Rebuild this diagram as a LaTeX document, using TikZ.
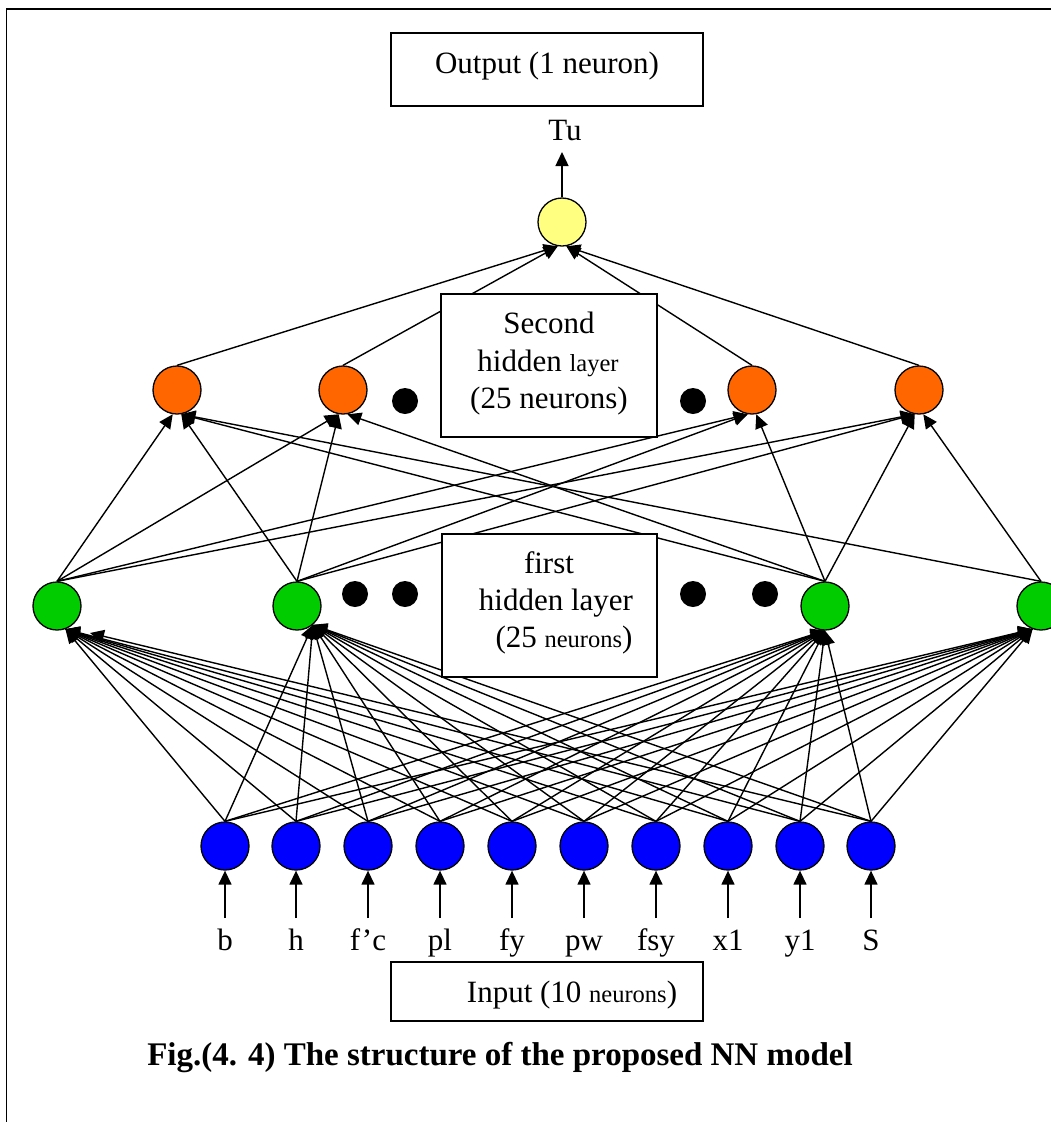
\documentclass[tikz,border=0pt]{standalone}
\usepackage{fontspec}
\setmainfont{Liberation Serif}
\usetikzlibrary{arrows.meta}
\pgfdeclarelayer{wires}
\pgfsetlayers{wires,main}
\definecolor{inblue}{RGB}{0,0,255}
\definecolor{hidgreen}{RGB}{0,204,0}
\definecolor{hidorange}{RGB}{255,102,0}
\definecolor{outyellow}{RGB}{255,255,128}
\newcommand{\nntext}{\fontsize{31}{37}\selectfont}
\newcommand{\nnsmall}{\fontsize{24.5}{30}\selectfont}
\begin{document}
\begin{tikzpicture}[x=1pt,y=-1pt,
  neuron/.style={circle,draw=black,line width=1.3pt,minimum size=48pt,inner sep=0pt},
  dotn/.style={circle,fill=black,minimum size=26pt,inner sep=0pt},
  layerbox/.style={draw=black,fill=white,line width=1.4pt,inner sep=0pt},
  wire/.style={line width=1.4pt,-{Triangle[length=14pt,width=13pt]}},
  lbl/.style={font=\nntext,inner sep=0pt,anchor=base}]
\useasboundingbox (0,0) rectangle (1051,1122);

% page frame
\draw[line width=1.4pt] (6.5,1122) -- (6.5,9) -- (1051,9);

% output neuron
\node[neuron,fill=outyellow] (y) at (562,222) {};
\coordinate (tu) at (562,152);
\node[lbl] (tulbl) at (565,140) {Tu};

% second hidden layer
\node[neuron,fill=hidorange] (o1) at (177,390) {};
\node[neuron,fill=hidorange] (o2) at (343,390) {};
\node[neuron,fill=hidorange] (o3) at (752,390) {};
\node[neuron,fill=hidorange] (o4) at (919,390) {};

% first hidden layer
\node[neuron,fill=hidgreen] (g1) at (57,606) {};
\node[neuron,fill=hidgreen] (g2) at (297,606) {};
\node[neuron,fill=hidgreen] (g3) at (825,606) {};
\node[neuron,fill=hidgreen] (g4) at (1041,606) {};

% input layer
\foreach \x/\n/\t in {225/i1/b, 296/i2/h, 368/i3/{f’c}, 440/i4/pl, 512/i5/fy,
                      584/i6/pw, 656/i7/fsy, 728/i8/x1, 800/i9/y1, 871/i10/S} {
  \node[neuron,fill=inblue] (\n) at (\x,846) {};
  \coordinate (s\n) at (\x,918);
  \node[lbl] (l\n) at (\x,950) {\t};
}
\coordinate (g1stub) at (90,633);

\begin{pgfonlayer}{wires}
  % output arrow
  \draw[wire] (y.north) -- (tu);
  % second hidden -> output
  \draw[wire] (o1.north) -- (y.-100);
  \draw[wire] (o2.north) -- (y.-100);
  \draw[wire] (o3.north) -- (y.-80);
  \draw[wire] (o4.north) -- (y.-80);
  % first hidden -> second hidden
  \foreach \s/\t in {g1/o1.-100, g1/o2.-100, g1/o3.-100, g1/o4.-100,
                     g2/o1.-80, g2/o2.-100, g2/o3.-100, g2/o4.-100,
                     g3/o1.-80, g3/o2.-80, g3/o3.-80, g3/o4.-100,
                     g4/o1.-80, g4/o4.-80}
    \draw[wire] (\s.north) -- (\t);
  % inputs -> first hidden
  \foreach \n in {i1,i2,i3,i4,i5,i6,i7,i8,i9,i10} {
    \draw[wire] (s\n) -- (\n.south);
    \draw[wire] (\n.north) -- (g2.-50);
    \draw[wire] (\n.north) -- (g3.-90);
    \draw[wire] (\n.north) -- (g4.-110);
  }
  \foreach \n in {i1,i2,i3,i4,i5,i6,i7,i8,i9}
    \draw[wire] (\n.north) -- (g1.-70);
  \draw[wire] (i10.north) -- (g1stub);
\end{pgfonlayer}

% ellipsis dots
\node[dotn] (d1) at (405,401) {};
\node[dotn] (d2) at (693,401) {};
\node[dotn] (d3) at (355,594) {};
\node[dotn] (d4) at (405,594) {};
\node[dotn] (d5) at (693,594) {};
\node[dotn] (d6) at (765,594) {};

% layer boxes
\node[layerbox,minimum width=312pt,minimum height=73pt] (outbox) at (547,69.5) {};
\node[lbl] (outtxt) at (547,73) {Output (1 neuron)};

\node[layerbox,minimum width=216pt,minimum height=143pt] (h2box) at (549,365.5) {};
\node[lbl] (h2a) at (549,333) {Second};
\node[lbl] (h2b) at (548,371) {hidden {\nnsmall layer}};
\node[lbl] (h2c) at (549,408) {(25 neurons)};

\node[layerbox,minimum width=215pt,minimum height=143pt] (h1box) at (549.5,605.5) {};
\node[lbl] (h1a) at (549,573) {first};
\node[lbl] (h1b) at (556,610) {hidden layer};
\node[lbl] (h1c) at (564,647) {(25 {\nnsmall neurons})};

\node[layerbox,minimum width=312pt,minimum height=59pt] (inbox) at (547,991.5) {};
\node[lbl] (intxt) at (572,1002) {Input (10 {\nnsmall neurons})};

% caption
\node[lbl,font=\fontsize{33}{38}\selectfont\bfseries] (cap) at (500,1065)
  {Fig.(4. 4) The structure of the proposed NN model};
\end{tikzpicture}
\end{document}
